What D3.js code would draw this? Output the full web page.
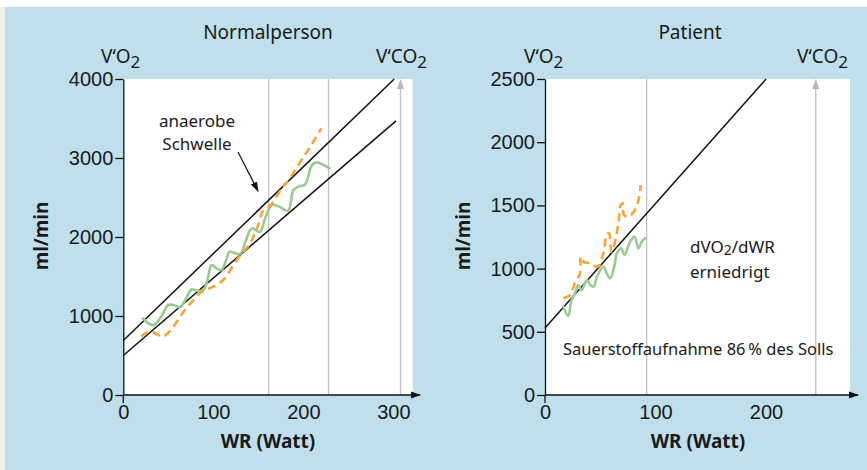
<!DOCTYPE html>
<html lang="de">
<head>
<meta charset="UTF-8">
<script src="https://cdn.jsdelivr.net/npm/d3@7"></script>
<style>
	body { margin: 0; background: #fff; }
	svg { display: block; font-family: "Noto Sans", "Open Sans", sans-serif; }
</style>
</head>
<body>
<svg id="chart" width="867" height="470"></svg>
<script>
// data (W = watt, ml/min)
var leftYTicks = [0, 1000, 2000, 3000, 4000];
var leftXTicks = [0, 100, 200, 300];
var rightYTicks = [0, 500, 1000, 1500, 2000, 2500];
var rightXTicks = [0, 100, 200];

var leftO2 = [[22,970],[28,905],[34,886],[42,990],[50,1139],[57,1135],[63,1110],[70,1230],[76,1338],[83,1320],[89,1325],[94,1480],[98,1646],[104,1600],[109,1582],[114,1700],[118,1814],[124,1795],[130,1785],[136,1950],[141,2089],[144,2110],[148,2080],[152,2067],[158,2250],[165,2405],[173,2385],[183,2333],[189,2595],[195,2640],[202,2665],[209,2900],[214,2945],[222,2915],[229,2870]];
var leftCO2 = [[20,740],[26,790],[32,800],[38,765],[44,738],[50,790],[57,886],[63,990],[70,1097],[78,1200],[87,1308],[100,1371],[111,1456],[120,1600],[126,1709],[134,1820],[141,1920],[146,2046],[150,2150],[155,2330],[160,2365],[165,2420],[176,2616],[185,2743],[198,2975],[209,3165],[220,3376]];
var leftUpperLine = [[0,690],[301,4000]];
var leftLowerLine = [[0,500],[303,3470]];
var leftGrid = [161.5, 228];
var leftArrowAt = 308;

var rightO2 = [[16.6,700],[21,625],[24,751],[27,800],[30,870],[33,830],[38,910],[41,870],[44,857],[47,936],[53,1015],[56,960],[59,923],[63,1028],[65,1121],[69,1160],[72,1108],[77,1213],[81,1252],[84.5,1160],[87.5,1213],[90.5,1240]];
var rightCO2 = [[16.6,765],[22.6,791],[27,884],[31.7,963],[32.3,1094],[34.7,1055],[40.7,1042],[48,1015],[52.8,1121],[55.8,1266],[58,1279],[60,1134],[63,1200],[66.4,1358],[68.5,1503],[70.3,1517],[71.5,1424],[75.4,1411],[81.4,1464],[85.3,1569],[86.6,1661]];
var rightLine = [[0,530],[200,2500]];
var rightGrid = [92];
var rightArrowAt = 245;

var svg = d3.select("#chart");

// backdrop
svg.append("rect").attr("x", 0).attr("y", 0).attr("width", 867).attr("height", 470).attr("fill", "#eef3e8");
svg.append("rect").attr("x", 0).attr("y", 0).attr("width", 867).attr("height", 7).attr("fill", "#fff");
svg.append("rect").attr("x", 5).attr("y", 7).attr("width", 862).attr("height", 463).attr("fill", "#c0dfed");

var defs = svg.append("defs");
defs.append("marker").attr("id", "headBlack")
	.attr("viewBox", "0 0 10 10").attr("refX", 9).attr("refY", 5)
	.attr("markerWidth", 10).attr("markerHeight", 10).attr("markerUnits", "userSpaceOnUse")
	.attr("orient", "auto")
	.append("path").attr("d", "M0,1.5L10,5L0,8.5z").attr("fill", "#111");
defs.append("marker").attr("id", "headGray")
	.attr("viewBox", "0 0 10 10").attr("refX", 9).attr("refY", 5)
	.attr("markerWidth", 10).attr("markerHeight", 10).attr("markerUnits", "userSpaceOnUse")
	.attr("orient", "auto")
	.append("path").attr("d", "M0,1.5L10,5L0,8.5z").attr("fill", "#b8b8b8");

function vLabel(g, x, y, parts, anchor) {
	// parts: main text + subscript "2"
	var t = g.append("text").attr("x", x).attr("y", y).attr("font-size", 19)
		.attr("fill", "#1a1a1a").attr("text-anchor", anchor || "start");
	t.append("tspan").text(parts[0]);
	t.append("tspan").attr("dy", 5).attr("font-size", 17).text(parts[1]);
	return t;
}

function drawPanel(p) {
	var x = d3.scaleLinear().domain([0, p.xMax]).range([p.left, p.right]);
	var y = d3.scaleLinear().domain([0, p.yMax]).range([395, 79]);
	var g = svg.append("g");

	g.append("rect").attr("x", p.left).attr("y", 79)
		.attr("width", p.right - p.left).attr("height", 395 - 79).attr("fill", "#fff");

	// gray guide lines
	g.selectAll(".grid").data(p.grid).enter().append("line")
		.attr("x1", function(d) { return x(d); }).attr("x2", function(d) { return x(d); })
		.attr("y1", 79).attr("y2", 395)
		.attr("stroke", "#c2c2c2").attr("stroke-width", 1.3);
	g.append("line")
		.attr("x1", x(p.arrowAt)).attr("x2", x(p.arrowAt))
		.attr("y1", 395).attr("y2", 80)
		.attr("stroke", "#c8c8c8").attr("stroke-width", 1.5)
		.attr("marker-end", "url(#headGray)");

	// regression lines
	var line = d3.line().x(function(d) { return x(d[0]); }).y(function(d) { return y(d[1]); });
	p.fits.forEach(function(f) {
		g.append("path").attr("d", line(f)).attr("fill", "none")
			.attr("stroke", "#111").attr("stroke-width", 1.5);
	});

	var smooth = d3.line().curve(d3.curveCatmullRom.alpha(0.5))
		.x(function(d) { return x(d[0]); }).y(function(d) { return y(d[1]); });
	g.append("path").attr("d", smooth(p.o2)).attr("fill", "none")
		.attr("stroke", "#98cb92").attr("stroke-width", 2.6).attr("stroke-linecap", "round");
	g.append("path").attr("d", smooth(p.co2)).attr("fill", "none")
		.attr("stroke", "#f8a433").attr("stroke-width", 2.6).attr("stroke-dasharray", "8,5");

	// axes
	var yAxis = d3.axisLeft(y).tickValues(p.yTicks).tickFormat(d3.format("d"))
		.tickSize(8).tickSizeOuter(0).tickPadding(2);
	var ya = g.append("g").attr("transform", "translate(" + p.left + ",0)").call(yAxis);
	ya.select(".domain").attr("stroke", "#111").attr("stroke-width", 1.3);
	ya.selectAll(".tick line").attr("stroke", "#111").attr("stroke-width", 1.3);
	ya.selectAll("text").attr("font-size", 20).attr("fill", "#1a1a1a").attr("font-family", null);

	var xAxis = d3.axisBottom(x).tickValues(p.xTicks).tickFormat(d3.format("d")).tickSize(0).tickPadding(10);
	var xa = g.append("g").attr("transform", "translate(0,395)").call(xAxis);
	xa.select(".domain").remove();
	xa.selectAll("text").attr("font-size", 20).attr("fill", "#1a1a1a").attr("font-family", null);

	g.append("line").attr("x1", p.left).attr("x2", p.arrowTip)
		.attr("y1", 395).attr("y2", 395)
		.attr("stroke", "#111").attr("stroke-width", 1.3)
		.attr("marker-end", "url(#headBlack)");
	g.append("line").attr("x1", p.left).attr("x2", p.left)
		.attr("y1", 395).attr("y2", 403)
		.attr("stroke", "#111").attr("stroke-width", 1.3);

	// labels
	g.append("text").attr("x", p.titleX).attr("y", 39).attr("text-anchor", "middle")
		.attr("font-size", 19).attr("fill", "#1a1a1a").text(p.title);
	vLabel(g, p.o2LabelX, 63, ["V\u2018O", "2"], "start");
	vLabel(g, p.co2LabelX, 63, ["V\u2018CO", "2"], "end");

	g.append("text").attr("x", p.xLabelX).attr("y", 448).attr("text-anchor", "middle")
		.attr("font-size", 19).attr("font-weight", "bold").attr("fill", "#1a1a1a")
		.text("WR (Watt)");
	g.append("text").attr("transform", "translate(" + (p.left - 75) + ",236)rotate(-90)")
		.attr("text-anchor", "middle").attr("font-size", 19).attr("font-weight", "bold")
		.attr("fill", "#1a1a1a").text("ml/min");
	return g;
}

drawPanel({
	left: 123.3, right: 412.7, xMax: 321.5, yMax: 4000,
	yTicks: leftYTicks, xTicks: leftXTicks,
	grid: leftGrid, arrowAt: leftArrowAt, arrowTip: 420,
	fits: [leftUpperLine, leftLowerLine],
	o2: leftO2, co2: leftCO2,
	title: "Normalperson", titleX: 268, o2LabelX: 101, co2LabelX: 427,
	xLabelX: 268
});

drawPanel({
	left: 545, right: 850, xMax: 276, yMax: 2500,
	yTicks: rightYTicks, xTicks: rightXTicks,
	grid: rightGrid, arrowAt: rightArrowAt, arrowTip: 858,
	fits: [rightLine],
	o2: rightO2, co2: rightCO2,
	title: "Patient", titleX: 690, o2LabelX: 524, co2LabelX: 848,
	xLabelX: 698
});

// annotations
var ann = svg.append("g").attr("font-size", 17).attr("fill", "#1a1a1a");
ann.append("text").attr("x", 197).attr("y", 127).attr("text-anchor", "middle").text("anaerobe");
ann.append("text").attr("x", 197).attr("y", 150).attr("text-anchor", "middle").text("Schwelle");
ann.append("line").attr("x1", 238).attr("y1", 152).attr("x2", 258).attr("y2", 191)
	.attr("stroke", "#111").attr("stroke-width", 1.2).attr("marker-end", "url(#headBlack)");

var d1 = ann.append("text").attr("x", 690).attr("y", 253);
d1.append("tspan").text("dVO");
d1.append("tspan").attr("dy", 2).attr("font-size", 14).text("2");
d1.append("tspan").attr("dy", -2).text("/dWR");
ann.append("text").attr("x", 690).attr("y", 278).text("erniedrigt");
ann.append("text").attr("x", 563).attr("y", 355).attr("font-size", 16.5)
	.text("Sauerstoffaufnahme 86\u202f% des Solls");
</script>
</body>
</html>
